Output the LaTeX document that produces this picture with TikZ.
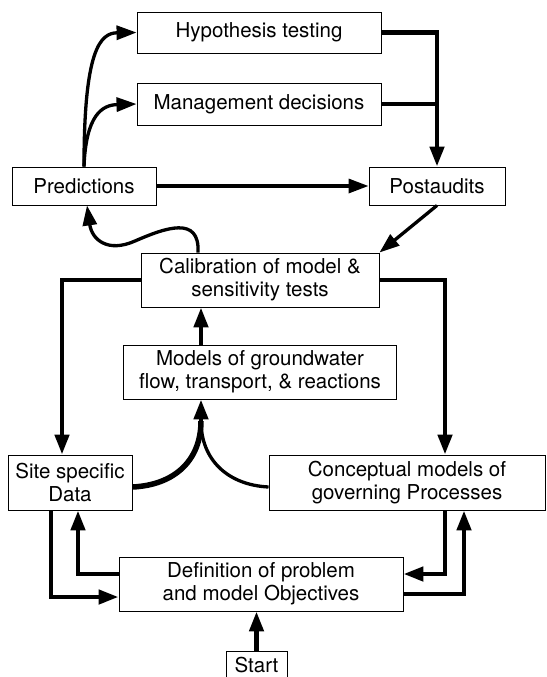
\documentclass[tikz,border=0pt]{standalone}
\usepackage{fontspec}
\setmainfont{TeX Gyre Heros}
\usetikzlibrary{arrows.meta,positioning,calc}
\tikzset{
    flowbox/.style={
        rectangle,
        draw,
        line width=0.9pt,
        inner sep=0pt,
        align=center,
        font=\fontsize{20.5}{23}\selectfont
    },
    heavy/.style={
        line width=4.5pt
    },
    medium/.style={
        line width=3.3pt
    },
    flowarrow/.style={
        -{Triangle[length=20pt,width=14pt]}
    }
}

\begin{document}
\begin{tikzpicture}[x=1pt,y=-1pt]
        \useasboundingbox (0,0) rectangle (546,677);

        % Uses of the model
        \node[flowbox, minimum width=244, minimum height=41] (hyp) at (259,32.5) {Hypothesis testing};
        \node[flowbox, minimum width=244, minimum height=42] (mgmt) at (259,104) {Management decisions};
        \node[flowbox, minimum width=144, minimum height=38] (pred) at (84,186) {Predictions};
        \node[flowbox, minimum width=136, minimum height=38] (post) at (437,186) {Postaudits};

        % Model building
        \node[flowbox, minimum width=238, minimum height=54] (calib) at (260,280) {Calibration of model \&\\sensitivity tests};
        \node[flowbox, minimum width=273, minimum height=54] (models) at (260,372) {Models of groundwater\\flow, transport, \& reactions};
        \node[flowbox, minimum width=124, minimum height=55] (site) at (70,482.5) {Site specific\\Data};
        \node[flowbox, minimum width=276, minimum height=55] (concept) at (407,482.5) {Conceptual models of\\governing Processes};

        % Starting point
        \node[flowbox, minimum width=284, minimum height=54] (defn) at (261,584) {Definition of problem\\and model Objectives};
        \node[flowbox, minimum width=61, minimum height=28] (start) at (256.5,665) {Start};

        % Predictions and postaudits
        \draw[heavy,flowarrow] (hyp.east) -| (post.north);
        \draw[heavy] (mgmt.east) -- (mgmt.east -| post.north);
        \draw[medium,flowarrow] (pred.north) .. controls (84,50) and (100,33) .. (hyp.west);
        \draw[medium,flowarrow] (pred.north) .. controls (86,115) and (102,105) .. (mgmt.west);
        \draw[medium,flowarrow] (pred) -- (post);
        \draw[medium,flowarrow] (post.south) -- (calib.north east);
        \draw[medium,flowarrow] ([xshift=-62]calib.north) .. controls (200,215) and (165,228) .. (135,241) .. controls (108,253) and (92,240) .. ([xshift=3]pred.south);

        % Calibration back to data and concepts
        \draw[heavy,flowarrow] (calib.west) -| ([xshift=-8]site.north);
        \draw[heavy,flowarrow] (calib.east) -| ([xshift=38]concept.north);

        % Data and concepts into the models
        \coordinate (merge) at (201,421);
        \draw[line width=5.5pt] ([yshift=-4.5]site.east) .. controls (175,485) and (201,460) .. (merge);
        \draw[medium] ([yshift=-4.5]concept.west) .. controls (228,485) and (201,460) .. (merge);
        \draw[heavy,flowarrow] (merge) -- (merge |- models.south);
        \draw[heavy,flowarrow] ([xshift=-59]models.north) -- ([xshift=-59]calib.south);

        % Loops with the problem definition
        \draw[heavy,flowarrow] ([xshift=-19]site.south) |- ([yshift=-13]defn.west);
        \draw[heavy,flowarrow] ([yshift=10]defn.west) -| ([xshift=8]site.south);
        \draw[heavy,flowarrow] ([xshift=38]concept.south) |- ([yshift=10]defn.east);
        \draw[heavy,flowarrow] ([yshift=-10]defn.east) -| ([xshift=57]concept.south);
        \draw[heavy,flowarrow] (start.north) -- (start.north |- defn.south);
    \end{tikzpicture}
\end{document}
